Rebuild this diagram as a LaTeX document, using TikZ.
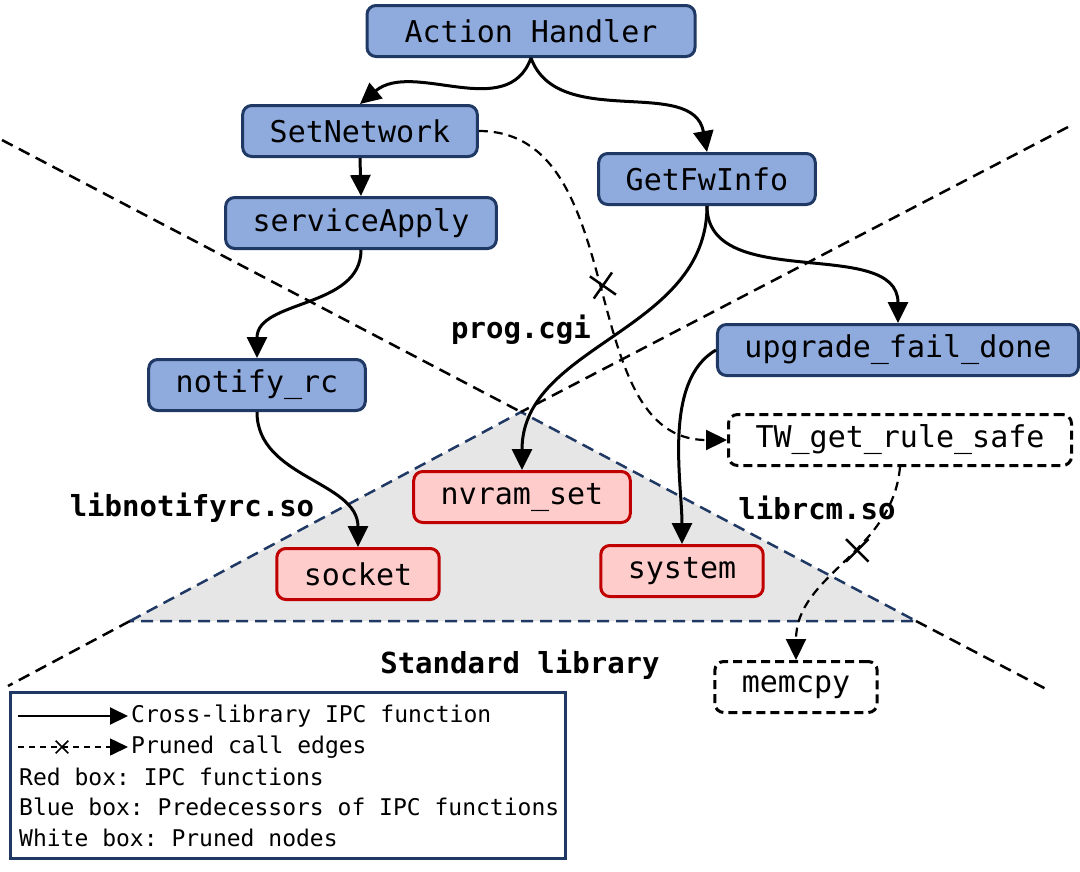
\documentclass[tikz,border=0pt]{standalone}
\usepackage{fontspec}
\setmonofont{DejaVu Sans Mono}
\usepackage{xcolor}
\usepackage{tikz}
\usetikzlibrary{arrows.meta, shapes.misc, calc}

\definecolor{boxblue}{HTML}{8FAADC}
\definecolor{navyline}{HTML}{1F3864}
\definecolor{boxred}{HTML}{FFCCCC}
\definecolor{edgered}{HTML}{C00000}
\definecolor{stdgray}{HTML}{E6E6E6}

\begin{document}
\begin{tikzpicture}[x=1pt, y=1pt,
  fn/.style={rounded corners=9pt, minimum height=51pt, inner xsep=27pt,
    font=\ttfamily\fontsize{30}{35}\selectfont, line width=3pt},
  bluebox/.style={fn, fill=boxblue, draw=navyline},
  redbox/.style={fn, fill=boxred, draw=edgered},
  prunedbox/.style={fn, fill=white, draw=black, dash pattern=on 9pt off 5pt},
  libname/.style={font=\ttfamily\bfseries\fontsize{29}{34}\selectfont},
  legendtext/.style={anchor=west, inner sep=0pt, font=\ttfamily\fontsize{23}{27}\selectfont},
  ipc/.style={line width=3pt, -{Triangle[length=21pt,width=20pt]}},
  pruned/.style={line width=2.2pt, dash pattern=on 9pt off 6pt, -{Triangle[length=21pt,width=20pt]}},
  cut/.style={cross out, draw, solid, line width=2.5pt, minimum size=20pt, inner sep=0pt},
  region/.style={line width=2.5pt, dash pattern=on 12pt off 7pt}]
\useasboundingbox (0,0) rectangle (1080,-871);

% Standard library triangle
\coordinate (apex) at (521,-412);
\coordinate (baseL) at (130,-621);
\coordinate (baseR) at (916,-621);
\filldraw[fill=stdgray, draw=navyline, region] (baseL) -- (apex) -- (baseR) -- cycle;

% Library borders
\draw[region] (2,-140) -- (apex);
\draw[region] (1068,-127) -- (apex);
\draw[region] (baseR) -- (1048,-690);
\draw[region] (baseL) -- (8,-686);

% Library names
\node[libname] (progcgi) at (521,-330) {prog.cgi};
\node[libname] (libnotify) at (192,-508) {libnotifyrc.so};
\node[libname] (librcm) at (817,-508) {librcm.so};
\node[libname] (stdlib) at (520,-665) {Standard library};

% Predecessors
\node[bluebox, minimum width=328pt] (handler) at (531,-31) {Action Handler};
\node[bluebox] (setnet) at (360,-131) {SetNetwork};
\node[bluebox] (getfw) at (707,-179) {GetFwInfo};
\node[bluebox] (svcapply) at (361,-223) {serviceApply};
\node[bluebox] (notifyrc) at (257,-385) {notify\_rc};
\node[bluebox] (upgfail) at (898,-350) {upgrade\_fail\_done};

% IPC functions
\node[redbox] (nvram) at (522,-497) {nvram\_set};
\node[redbox] (socket) at (358,-574) {socket};
\node[redbox] (system) at (682,-571) {system};

% Pruned nodes
\node[prunedbox] (twrule) at (900,-440) {TW\_get\_rule\_safe};
\node[prunedbox] (memcpy) at (796,-687) {memcpy};

% Call edges
\draw[ipc] (handler.south) to[out=-110, in=40] (setnet.north);
\draw[ipc] (handler.south) to[out=-70, in=100] (getfw.north);
\draw[ipc] (setnet.south) -- (svcapply.north);
\draw[ipc] (svcapply.south) to[out=-90, in=90] (notifyrc.north);
\draw[ipc] (notifyrc.south) to[out=-90, in=90] (socket.north);
\draw[ipc] (getfw.south) to[out=-90, in=90] (nvram.north);
\draw[ipc] (getfw.south) to[out=-90, in=90] (upgfail.north);
\draw[ipc] (upgfail.west) to[out=210, in=90, looseness=0.8] (system.north);

% Pruned edges
\draw[pruned] (setnet.east) to[out=0, in=180] node[cut, rotate=10] {} (twrule.west);
\draw[pruned] (twrule.south) to[out=-95, in=90] node[cut, pos=0.42] {} (memcpy.north);

% Legend
\draw[navyline, line width=3pt] (10,-692) rectangle (565,-858);
\coordinate (solidA) at (18,-716);
\coordinate (solidB) at (128,-716);
\coordinate (dashA) at (18,-747);
\coordinate (dashB) at (128,-747);
\draw[line width=2pt, -{Triangle[length=18pt,width=17pt]}] (solidA) -- (solidB);
\draw[line width=1.6pt, dash pattern=on 6pt off 5pt, -{Triangle[length=18pt,width=17pt]}] (dashA) -- node[cut, line width=1.6pt, minimum size=11pt, pos=0.4] {} (dashB);
\node[legendtext] (legA) at (131,-716) {Cross-library IPC function};
\node[legendtext] (legB) at (131,-747) {Pruned call edges};
\node[legendtext] (legC) at (19,-777) {Red box: IPC functions};
\node[legendtext] (legD) at (19,-807) {Blue box: Predecessors of IPC functions};
\node[legendtext] (legE) at (19,-838) {White box: Pruned nodes};
\end{tikzpicture}
\end{document}
